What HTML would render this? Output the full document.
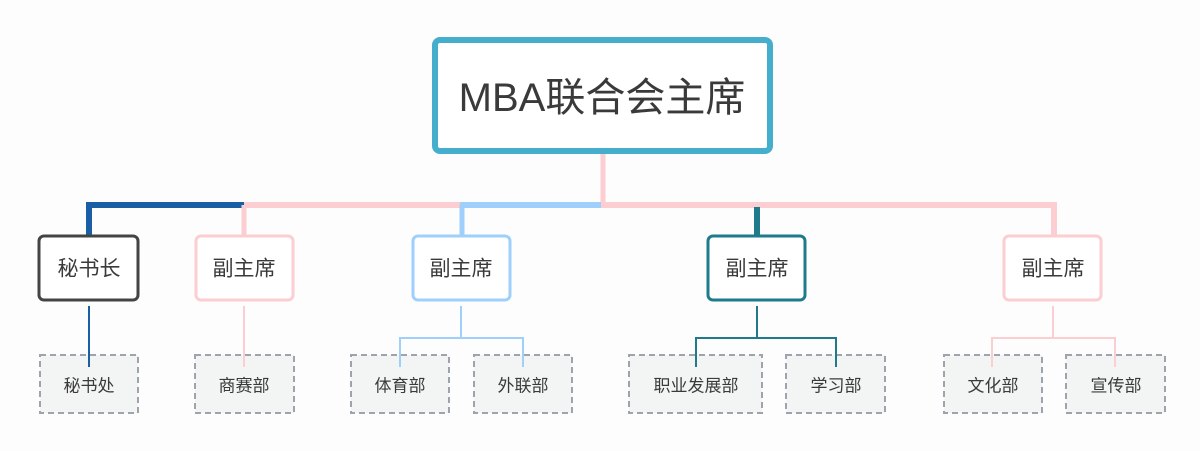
<!DOCTYPE html>
<html><head><meta charset="utf-8"><style>
html,body{margin:0;padding:0;background:#fdfdfd;}
svg{display:block;}
text{font-family:"Liberation Sans","Noto Sans CJK SC",sans-serif;fill:#3a3a3a;text-anchor:middle;dominant-baseline:central;}
</style></head><body>
<svg width="1200" height="451" viewBox="0 0 1200 451" xmlns="http://www.w3.org/2000/svg">
<rect width="1200" height="451" fill="#fdfdfd"/>
<line x1="603" y1="153" x2="603" y2="206" stroke="#fccdd1" stroke-width="5"/>
<polyline points="89,236 89,205 244,205" fill="none" stroke="#1a5fa5" stroke-width="6"/>
<line x1="244" y1="205" x2="460" y2="205" stroke="#fccdd1" stroke-width="6"/>
<line x1="460" y1="205" x2="601" y2="205" stroke="#9fd0fb" stroke-width="6"/>
<polyline points="601,205 1054,205 1054,236" fill="none" stroke="#fccdd1" stroke-width="6"/>
<line x1="244" y1="205" x2="244" y2="236" stroke="#fccdd1" stroke-width="5"/>
<line x1="462" y1="205" x2="462" y2="236" stroke="#9fd0fb" stroke-width="5"/>
<line x1="757" y1="207" x2="757" y2="236" stroke="#1f7a8c" stroke-width="6"/>
<rect x="435" y="40" width="335" height="111" rx="5" fill="#fff" stroke="#46aecd" stroke-width="6"/>
<text x="602" y="98" font-size="40">MBA联合会主席</text>
<g fill="#f3f4f4" stroke="#9ea3ad" stroke-width="2" stroke-dasharray="6,4">
<rect x="40" y="355" width="98" height="58"/>
<rect x="195" y="355" width="99" height="58"/>
<rect x="351" y="355" width="98" height="58"/>
<rect x="474" y="355" width="98" height="58"/>
<rect x="629" y="355" width="133" height="58"/>
<rect x="786" y="355" width="99" height="58"/>
<rect x="944" y="355" width="98" height="58"/>
<rect x="1066" y="355" width="99" height="58"/>
</g>
<line x1="89" y1="306" x2="89" y2="367" stroke="#1a5fa5" stroke-width="2"/>
<line x1="244" y1="306" x2="244" y2="367" stroke="#fccdd1" stroke-width="2"/>
<g fill="none" stroke-width="2">
<polyline points="461,306 461,338" stroke="#9fd0fb"/>
<polyline points="400,367 400,338 523,338 523,367" stroke="#9fd0fb"/>
<polyline points="757,306 757,338" stroke="#1f7a8c"/>
<polyline points="696,367 696,338 836,338 836,367" stroke="#1f7a8c"/>
<polyline points="1053,306 1053,338" stroke="#fccdd1"/>
<polyline points="992,367 992,338 1115,338 1115,367" stroke="#fccdd1"/>
</g>
<rect x="39" y="236" width="99" height="64" rx="5" fill="#fff" stroke="#444" stroke-width="3"/>
<rect x="196" y="236" width="97" height="64" rx="5" fill="#fff" stroke="#fccdd1" stroke-width="3"/>
<rect x="413" y="236" width="97" height="64" rx="5" fill="#fff" stroke="#9fd0fb" stroke-width="3"/>
<rect x="708" y="236" width="97" height="64" rx="5" fill="#fff" stroke="#1f7a8c" stroke-width="3"/>
<rect x="1004" y="236" width="97" height="64" rx="5" fill="#fff" stroke="#fccdd1" stroke-width="3"/>
<g font-size="21">
<text x="89" y="269">秘书长</text>
<text x="244" y="269">副主席</text>
<text x="461" y="269">副主席</text>
<text x="757" y="269">副主席</text>
<text x="1053" y="269">副主席</text>
</g>
<g font-size="17">
<text x="89" y="386">秘书处</text>
<text x="244" y="386">商赛部</text>
<text x="400" y="386">体育部</text>
<text x="523" y="386">外联部</text>
<text x="696" y="386">职业发展部</text>
<text x="836" y="386">学习部</text>
<text x="993" y="386">文化部</text>
<text x="1116" y="386">宣传部</text>
</g>
</svg>
</body></html>
